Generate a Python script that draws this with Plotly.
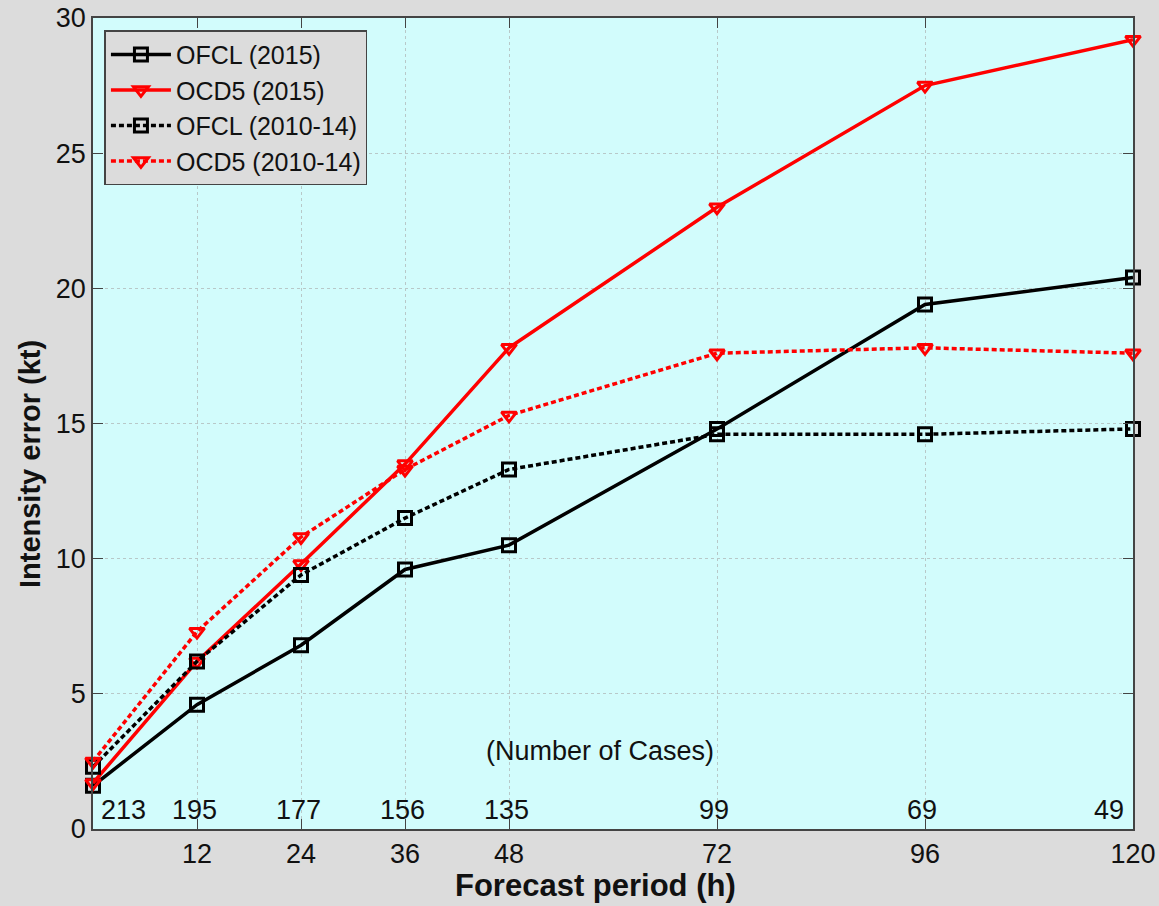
import plotly.graph_objects as go

hours = [0, 12, 24, 36, 48, 72, 96, 120]
ofcl_2015 = [1.6, 4.6, 6.8, 9.6, 10.5, 14.8, 19.4, 20.4]
ocd5_2015 = [1.7, 6.2, 9.8, 13.5, 17.8, 23.0, 27.5, 29.2]
ofcl_1014 = [2.3, 6.2, 9.4, 11.5, 13.3, 14.6, 14.6, 14.8]
ocd5_1014 = [2.5, 7.3, 10.8, 13.3, 15.3, 17.6, 17.8, 17.6]
cases = [213, 195, 177, 156, 135, 99, 69, 49]
x_ticks = [12, 24, 36, 48, 72, 96, 120]
y_ticks = [0, 5, 10, 15, 20, 25, 30]

FONT = "Liberation Sans, Arial, sans-serif"
dotdash = "5px,3px"

series = [
    ("OFCL (2015)", ofcl_2015, "black", "solid", "square-open"),
    ("OCD5 (2015)", ocd5_2015, "red", "solid", "triangle-down-open"),
    ("OFCL (2010-14)", ofcl_1014, "black", dotdash, "square-open"),
    ("OCD5 (2010-14)", ocd5_1014, "red", dotdash, "triangle-down-open"),
]

fig = go.Figure()
for name, vals, col, dash, sym in series:
    fig.add_trace(go.Scatter(
        x=hours, y=vals, name=name, mode="lines+markers",
        line=dict(color=col, width=3.5, dash=dash),
        marker=dict(symbol=sym, size=13, color=col, line=dict(color=col, width=3)),
        cliponaxis=False,
    ))

# Number of cases annotations
shifts = {0: 30, 7: -24}
for i, (h, c) in enumerate(zip(hours, cases)):
    fig.add_annotation(x=h, y=0.72, text=str(c), showarrow=False,
                       xshift=shifts.get(i, -3), font=dict(size=27, color="#111", family=FONT))
fig.add_annotation(x=58.5, y=2.9, text="(Number of Cases)", showarrow=False,
                   font=dict(size=27, color="#111", family=FONT))

# Axis titles
fig.add_annotation(xref="paper", yref="paper", x=0.483, xanchor="center", y=0, yshift=-56,
                   yanchor="middle", text="<b>Forecast period (h)</b>", showarrow=False,
                   font=dict(size=31, color="#111", family=FONT))
fig.add_annotation(xref="paper", yref="paper", x=0, xshift=-63, xanchor="center",
                   y=0.45, yanchor="middle", textangle=-90,
                   text="<b>Intensity error (kt)</b>", showarrow=False,
                   font=dict(size=29, color="#111", family=FONT))

fig.update_layout(
    width=1159, height=906,
    paper_bgcolor="#dcdcdc",
    plot_bgcolor="#d2fcfc",
    margin=dict(l=93, r=26, t=18, b=77),
    font=dict(family=FONT, size=22, color="#111"),
    legend=dict(
        x=0.011, y=0.985, xanchor="left", yanchor="top",
        bgcolor="#dcdcdc", bordercolor="#444", borderwidth=1.5,
        font=dict(size=25, family=FONT, color="#111"),
        tracegroupgap=0, itemwidth=60,
    ),
    showlegend=True,
)
fig.update_xaxes(
    range=[0, 120], tickvals=x_ticks, ticktext=[str(t) for t in x_ticks],
    showgrid=True, gridcolor="#b8c8c8", griddash="dot", gridwidth=1,
    ticks="inside", ticklen=10, tickcolor="#444", mirror="ticks",
    showline=True, linecolor="#444", linewidth=1.5,
    zeroline=False, automargin=False,
    tickfont=dict(size=27, family=FONT),
)
fig.update_yaxes(
    range=[0, 30], tickvals=y_ticks,
    showgrid=True, gridcolor="#b8c8c8", griddash="dot", gridwidth=1,
    ticks="inside", ticklen=10, tickcolor="#444", mirror="ticks",
    showline=True, linecolor="#444", linewidth=1.5,
    zeroline=False, automargin=False,
    tickfont=dict(size=27, family=FONT),
)

fig.write_html("out.html")
